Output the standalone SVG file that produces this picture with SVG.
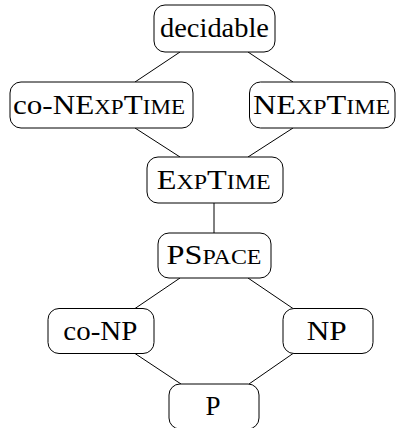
<svg xmlns="http://www.w3.org/2000/svg" width="398" height="428" viewBox="0 0 398 428">
<style>
.box{fill:#fff;stroke:#000;stroke-width:1}
.edge{stroke:#000;stroke-width:1;fill:none}
text{font-family:"Liberation Serif","DejaVu Serif",serif;font-size:27px;text-anchor:middle;fill:#000}
.sc{font-size:20px}
</style>
<g id="edges">
<line class="edge" x1="180" y1="52" x2="135" y2="82"/>
<line class="edge" x1="248" y1="52" x2="293" y2="82"/>
<line class="edge" x1="135" y1="128" x2="180" y2="157"/>
<line class="edge" x1="293" y1="128" x2="248" y2="157"/>
<line class="edge" x1="214" y1="203" x2="214" y2="233"/>
<line class="edge" x1="180" y1="278" x2="135" y2="308.5"/>
<line class="edge" x1="248" y1="278" x2="293" y2="308.5"/>
<line class="edge" x1="135" y1="353.5" x2="181" y2="384"/>
<line class="edge" x1="293" y1="353.5" x2="249" y2="384"/>
</g>
<g id="decidable">
<rect class="box" x="154" y="5" width="121" height="47" rx="11"/>
<text x="214.5" y="37.3" textLength="109" lengthAdjust="spacingAndGlyphs">decidable</text>
</g>
<g id="coNEXPTIME">
<rect class="box" x="10" y="82" width="183" height="46" rx="11"/>
<text x="99" y="113.5" textLength="172" lengthAdjust="spacingAndGlyphs">co-NE<tspan class="sc">XP</tspan>T<tspan class="sc">IME</tspan></text>
</g>
<g id="NEXPTIME">
<rect class="box" x="249.5" y="82" width="145.5" height="46" rx="11"/>
<text x="321.5" y="113.5" textLength="137" lengthAdjust="spacingAndGlyphs">NE<tspan class="sc">XP</tspan>T<tspan class="sc">IME</tspan></text>
</g>
<g id="EXPTIME">
<rect class="box" x="147" y="157" width="136" height="46" rx="11"/>
<text x="213.7" y="188.7" textLength="114" lengthAdjust="spacingAndGlyphs">E<tspan class="sc">XP</tspan>T<tspan class="sc">IME</tspan></text>
</g>
<g id="PSPACE">
<rect class="box" x="158" y="233" width="113" height="45" rx="11"/>
<text x="214" y="264.2" textLength="95" lengthAdjust="spacingAndGlyphs">PS<tspan class="sc">PACE</tspan></text>
</g>
<g id="coNP">
<rect class="box" x="48" y="308.5" width="106" height="45" rx="11"/>
<text x="100.3" y="339.7" textLength="74" lengthAdjust="spacingAndGlyphs">co-NP</text>
</g>
<g id="NP">
<rect class="box" x="283" y="308.5" width="90" height="45" rx="11"/>
<text x="326.7" y="339.7" textLength="40" lengthAdjust="spacingAndGlyphs">NP</text>
</g>
<g id="P">
<rect class="box" x="169" y="384" width="90" height="45" rx="11"/>
<text x="213" y="415.2">P</text>
</g>
</svg>
